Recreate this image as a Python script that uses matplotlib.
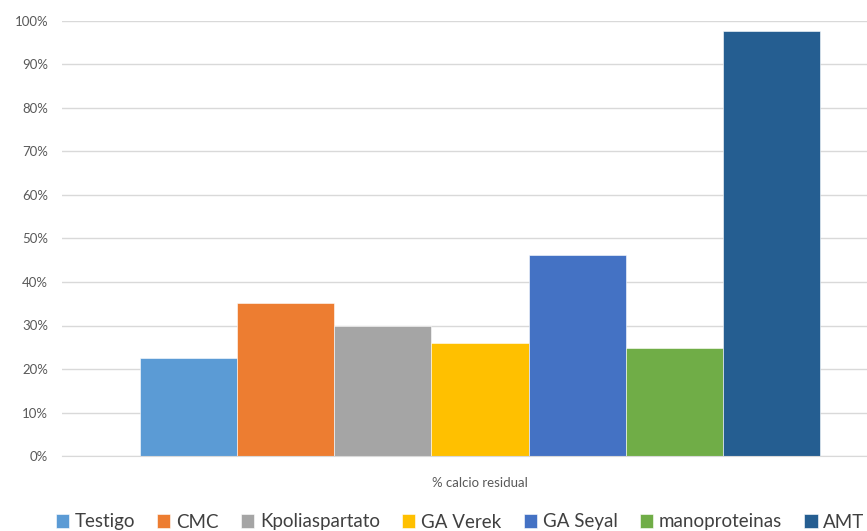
import matplotlib
matplotlib.use("Agg")
import matplotlib.pyplot as plt
from matplotlib.ticker import PercentFormatter

category = "% calcio residual"
series = ["Testigo", "CMC", "Kpoliaspartato", "GA Verek", "GA Seyal", "manoproteinas", "AMT"]
values = [22.5, 35.1, 29.9, 26.0, 46.1, 24.9, 97.6]
colors = ["#5B9BD5", "#ED7D31", "#A5A5A5", "#FFC000", "#4472C4", "#70AD47", "#255E91"]
yticks = [0, 10, 20, 30, 40, 50, 60, 70, 80, 90, 100]

plt.rcParams['font.family'] = ['Lato', 'DejaVu Sans']

fig = plt.figure(figsize=(8.67, 5.31), dpi=100)
ax = fig.add_axes([62/867, 1-456/531, 1-62/867, (456-21)/531])

n = len(series)
for i, (s, v, c) in enumerate(zip(series, values, colors)):
    ax.bar(i - (n-1)/2, v, width=1.0, color=c, label=s, edgecolor='white', linewidth=0.4, zorder=3)

ax.set_xlim(-4.305, 3.986)
ax.set_ylim(0, 100)
ax.set_yticks(yticks)
ax.yaxis.set_major_formatter(PercentFormatter(decimals=0))
ax.grid(axis='y', color='#D9D9D9', linewidth=1, zorder=0)
ax.set_xticks([0])
ax.set_xticklabels([category])
ax.tick_params(axis='x', length=0, pad=15, labelsize=9.5, labelcolor='#595959')
ax.tick_params(axis='y', length=0, pad=10, labelsize=9.5, labelcolor='#595959')
for sp in ['left', 'right', 'top']:
    ax.spines[sp].set_visible(False)
ax.spines['bottom'].set_color('#D9D9D9')
ax.spines['bottom'].set_zorder(4)

fig.legend(loc='center', bbox_to_anchor=(460/867, 1-522/531), ncol=n, frameon=False,
           fontsize=13.5, handlelength=0.7, handleheight=0.7, handletextpad=0.3,
           columnspacing=1.2, labelcolor='#404040')

fig.savefig("out.png", dpi=100)
